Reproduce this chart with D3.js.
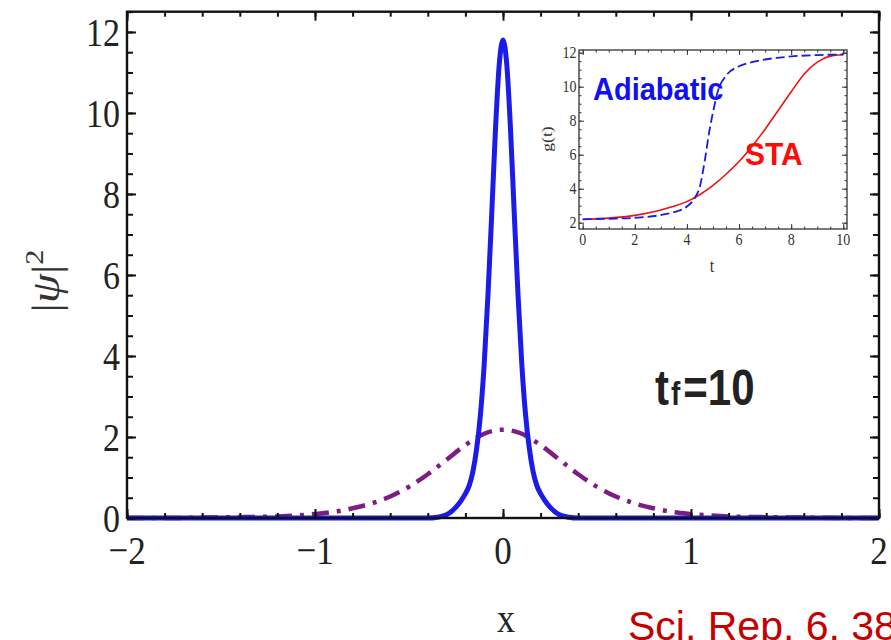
<!DOCTYPE html>
<html>
<head>
<meta charset="utf-8">
<script src="https://cdn.jsdelivr.net/npm/d3@7"></script>
<style>
  html, body { margin: 0; padding: 0; background: #fff; overflow: hidden; }
  svg { display: block; }
</style>
</head>
<body>
<svg id="chart" width="891" height="640"></svg>
<script>
// ---- main panel: density profiles |psi|^2 versus x ----
const xPos = [-2, -1.8, -1.6, -1.4, -1.2, -1.0, -0.9, -0.8, -0.7, -0.6, -0.5, -0.4, -0.3, -0.2, -0.1, 0,
              0.1, 0.2, 0.3, 0.4, 0.5, 0.6, 0.7, 0.8, 0.9, 1.0, 1.2, 1.4, 1.6, 1.8, 2];
const densityInitial = [0, 0, 0.01, 0.02, 0.04, 0.1, 0.15, 0.24, 0.36, 0.53, 0.77, 1.08, 1.44, 1.8, 2.08, 2.18,
                        2.08, 1.8, 1.44, 1.08, 0.77, 0.53, 0.36, 0.24, 0.15, 0.1, 0.04, 0.02, 0.01, 0, 0];

const xNarrow = [-2, -0.6, -0.4, -0.35, -0.3, -0.25, -0.22, -0.2, -0.18, -0.16, -0.14, -0.12, -0.1, -0.08, -0.06, -0.04, -0.02, 0,
                 0.02, 0.04, 0.06, 0.08, 0.1, 0.12, 0.14, 0.16, 0.18, 0.2, 0.22, 0.25, 0.3, 0.35, 0.4, 0.6, 2];
const densityFinal = [0, 0, 0, 0.02, 0.08, 0.27, 0.45, 0.6, 0.8, 1.15, 1.72, 2.55, 3.8, 5.5, 7.5, 9.6, 11.2, 11.8,
                      11.2, 9.6, 7.5, 5.5, 3.8, 2.55, 1.72, 1.15, 0.8, 0.6, 0.45, 0.27, 0.08, 0.02, 0, 0, 0];

const xTicks = [-2, -1, 0, 1, 2];
const xTickLabels = ["\u22122", "\u22121", "0", "1", "2"];
const yTicks = [0, 2, 4, 6, 8, 10, 12];
const yTickLabels = ["0", "2", "4", "6", "8", "10", "12"];

// ---- inset: interaction strength g(t) ----
const tAdiabatic = [0, 1, 2, 3, 3.5, 4, 4.3, 4.5, 4.7, 4.85, 5, 5.2, 5.5, 6, 6.5, 7, 8, 9, 10];
const gAdiabatic = [2.2, 2.23, 2.29, 2.45, 2.62, 2.95, 3.45, 4.15, 5.8, 7.3, 8.5, 9.8, 10.65, 11.2, 11.45, 11.6, 11.78, 11.86, 11.9];
const tSTA = [0, 1, 2, 3, 3.5, 4, 4.5, 5, 5.5, 6, 6.5, 7, 7.5, 8, 8.5, 9, 9.5, 10];
const gSTA = [2.2, 2.27, 2.43, 2.75, 2.97, 3.24, 3.66, 4.2, 4.85, 5.6, 6.5, 7.5, 8.6, 9.7, 10.75, 11.45, 11.8, 11.88];
const insetTicks = [0, 2, 4, 6, 8, 10];
const insetYTicks = [2, 4, 6, 8, 10, 12];

const svg = d3.select("#chart");
const serif = "'Liberation Serif', 'Times New Roman', serif";
const sans = "'Liberation Sans', Arial, sans-serif";
const stretch = 1.17;

// scales
const x = d3.scaleLinear().domain([-2, 2]).range([127, 879]);
const y = d3.scaleLinear().domain([0, 12.5]).range([518, 11.7]);

const minorX = d3.range(-2, 2.0001, 0.2).map(v => +v.toFixed(2));
const minorY = d3.range(0, 12.5001, 0.5);

// curves
const line = d3.line().curve(d3.curveMonotoneX);

svg.append("path")
  .attr("d", line(xPos.map((v, i) => [x(v), y(densityInitial[i])])))
  .attr("fill", "none")
  .attr("stroke", "#7d1c82")
  .attr("stroke-width", 4.5)
  .attr("stroke-dasharray", "17 8 4 8");

svg.append("path")
  .attr("d", line(xNarrow.map((v, i) => [x(v), y(densityFinal[i])])))
  .attr("fill", "none")
  .attr("stroke", "#1c1ce8")
  .attr("stroke-width", 5)
  .attr("stroke-linejoin", "round");

// frame with inward ticks on all four sides
function ticksAxis(gen, scale, values, size) {
  return gen(scale).tickValues(values).tickSize(size).tickFormat("");
}
const frame = svg.append("g").attr("class", "frame");
frame.append("g").attr("transform", "translate(0,518)").call(ticksAxis(d3.axisBottom, x, minorX, -5));
frame.append("g").attr("transform", "translate(0,518)").call(ticksAxis(d3.axisBottom, x, xTicks, -9));
frame.append("g").attr("transform", "translate(0,11.7)").call(ticksAxis(d3.axisTop, x, minorX, -5));
frame.append("g").attr("transform", "translate(0,11.7)").call(ticksAxis(d3.axisTop, x, xTicks, -9));
frame.append("g").attr("transform", "translate(127,0)").call(ticksAxis(d3.axisLeft, y, minorY, -6));
frame.append("g").attr("transform", "translate(127,0)").call(ticksAxis(d3.axisLeft, y, yTicks, -9));
frame.append("g").attr("transform", "translate(879,0)").call(ticksAxis(d3.axisRight, y, minorY, -6));
frame.append("g").attr("transform", "translate(879,0)").call(ticksAxis(d3.axisRight, y, yTicks, -9));
frame.selectAll(".domain").remove();
frame.selectAll(".tick line").attr("stroke", "#111").attr("stroke-width", 2);
frame.append("rect")
  .attr("x", 127).attr("y", 11.7).attr("width", 879 - 127).attr("height", 518 - 11.7)
  .attr("fill", "none").attr("stroke", "#111").attr("stroke-width", 2.4);

// tick labels
svg.append("g").selectAll("text").data(yTicks).join("text")
  .attr("transform", d => `translate(120,${y(d)}) scale(1,${stretch})`)
  .attr("dy", "0.36em")
  .attr("text-anchor", "end")
  .attr("font-family", serif).attr("font-size", 34).attr("fill", "#222")
  .text((d, i) => yTickLabels[i]);

svg.append("g").selectAll("text").data(xTicks).join("text")
  .attr("transform", d => `translate(${x(d)},564) scale(1,${stretch})`)
  .attr("text-anchor", "middle")
  .attr("font-family", serif).attr("font-size", 35).attr("fill", "#222")
  .text((d, i) => xTickLabels[i]);

// axis titles
svg.append("text")
  .attr("transform", `translate(506,632) scale(1,${stretch})`)
  .attr("text-anchor", "middle")
  .attr("font-family", serif).attr("font-size", 36).attr("fill", "#222")
  .text("x");

const yTitle = svg.append("text")
  .attr("transform", `translate(59,281) scale(1,${stretch}) rotate(-90)`)
  .attr("text-anchor", "middle")
  .attr("font-family", serif).attr("font-size", 40).attr("fill", "#333");
yTitle.append("tspan").text("|");
yTitle.append("tspan").attr("font-style", "italic").text("\u03C8");
yTitle.append("tspan").text("|");
yTitle.append("tspan").attr("font-size", 26).attr("dy", -16).text("2");

// t_f = 10 annotation
const tf = svg.append("text")
  .attr("transform", `translate(655,405) scale(1,${stretch})`)
  .attr("font-family", sans).attr("font-weight", "bold").attr("font-size", 42).attr("fill", "#222");
tf.append("tspan").text("t");
tf.append("tspan").attr("font-size", 28).attr("dx", 2).text("f");
tf.append("tspan").attr("dx", 3).text("=10");

// citation
svg.append("text")
  .attr("x", 628).attr("y", 640)
  .attr("font-family", sans).attr("font-size", 41).attr("fill", "#c40000")
  .text("Sci. Rep. 6, 38258 (2016)");

// ---- inset ----
const ix = d3.scaleLinear().domain([0, 10]).range([582.7, 843.3]);
const iy = d3.scaleLinear().domain([2, 12]).range([222.7, 52.7]);
const iLeft = 579, iRight = 847, iTop = 50, iBottom = 229;
const inset = svg.append("g").attr("class", "inset");
inset.append("rect")
  .attr("x", iLeft).attr("y", iTop).attr("width", iRight - iLeft).attr("height", iBottom - iTop)
  .attr("fill", "#fff");

const minorT = d3.range(0, 10.0001, 0.5);
const minorG = d3.range(2, 12.0001, 0.5);
const iframe = inset.append("g");
iframe.append("g").attr("transform", `translate(0,${iBottom})`).call(ticksAxis(d3.axisBottom, ix, minorT, -2.5));
iframe.append("g").attr("transform", `translate(0,${iBottom})`).call(ticksAxis(d3.axisBottom, ix, insetTicks, -5));
iframe.append("g").attr("transform", `translate(0,${iTop})`).call(ticksAxis(d3.axisTop, ix, minorT, -2.5));
iframe.append("g").attr("transform", `translate(0,${iTop})`).call(ticksAxis(d3.axisTop, ix, insetTicks, -5));
iframe.append("g").attr("transform", `translate(${iLeft},0)`).call(ticksAxis(d3.axisLeft, iy, minorG, -2.5));
iframe.append("g").attr("transform", `translate(${iLeft},0)`).call(ticksAxis(d3.axisLeft, iy, insetYTicks, -5));
iframe.append("g").attr("transform", `translate(${iRight},0)`).call(ticksAxis(d3.axisRight, iy, minorG, -2.5));
iframe.append("g").attr("transform", `translate(${iRight},0)`).call(ticksAxis(d3.axisRight, iy, insetYTicks, -5));
iframe.selectAll(".domain").remove();
iframe.selectAll(".tick line").attr("stroke", "#333").attr("stroke-width", 1);

const iline = d3.line().curve(d3.curveMonotoneX);
inset.append("path")
  .attr("d", iline(tSTA.map((v, i) => [ix(v), iy(gSTA[i])])))
  .attr("fill", "none").attr("stroke", "#f01010").attr("stroke-width", 1.6);
inset.append("path")
  .attr("d", iline(tAdiabatic.map((v, i) => [ix(v), iy(gAdiabatic[i])])))
  .attr("fill", "none").attr("stroke", "#1a1ae6").attr("stroke-width", 1.8)
  .attr("stroke-dasharray", "9 4");

inset.append("rect")
  .attr("x", iLeft).attr("y", iTop).attr("width", iRight - iLeft).attr("height", iBottom - iTop)
  .attr("fill", "none").attr("stroke", "#333").attr("stroke-width", 1.3);

inset.append("g").selectAll("text").data(insetTicks).join("text")
  .attr("transform", d => `translate(${ix(d)},245) scale(1,${stretch})`)
  .attr("text-anchor", "middle")
  .attr("font-family", serif).attr("font-size", 14).attr("fill", "#333")
  .text(d => d);
inset.append("g").selectAll("text").data(insetYTicks).join("text")
  .attr("transform", d => `translate(576.5,${iy(d)}) scale(1,${stretch})`)
  .attr("dy", "0.35em")
  .attr("text-anchor", "end")
  .attr("font-family", serif).attr("font-size", 14).attr("fill", "#333")
  .text(d => d);

inset.append("text")
  .attr("transform", `translate(712,272) scale(1,${stretch})`)
  .attr("text-anchor", "middle")
  .attr("font-family", serif).attr("font-size", 16).attr("fill", "#333")
  .text("t");
inset.append("text")
  .attr("transform", `translate(552,139) scale(1,${stretch}) rotate(-90)`)
  .attr("text-anchor", "middle")
  .attr("font-family", serif).attr("font-size", 15).attr("fill", "#333")
  .text("g(t)");

inset.append("text")
  .attr("transform", "translate(593,100) scale(1,1.06)")
  .attr("font-family", sans).attr("font-weight", "bold").attr("font-size", 29).attr("fill", "#1010f0")
  .text("Adiabatic");
inset.append("text")
  .attr("transform", "translate(745,165) scale(1,1.06)")
  .attr("font-family", sans).attr("font-weight", "bold").attr("font-size", 30).attr("fill", "#ff0a0a")
  .text("STA");
</script>
</body>
</html>
